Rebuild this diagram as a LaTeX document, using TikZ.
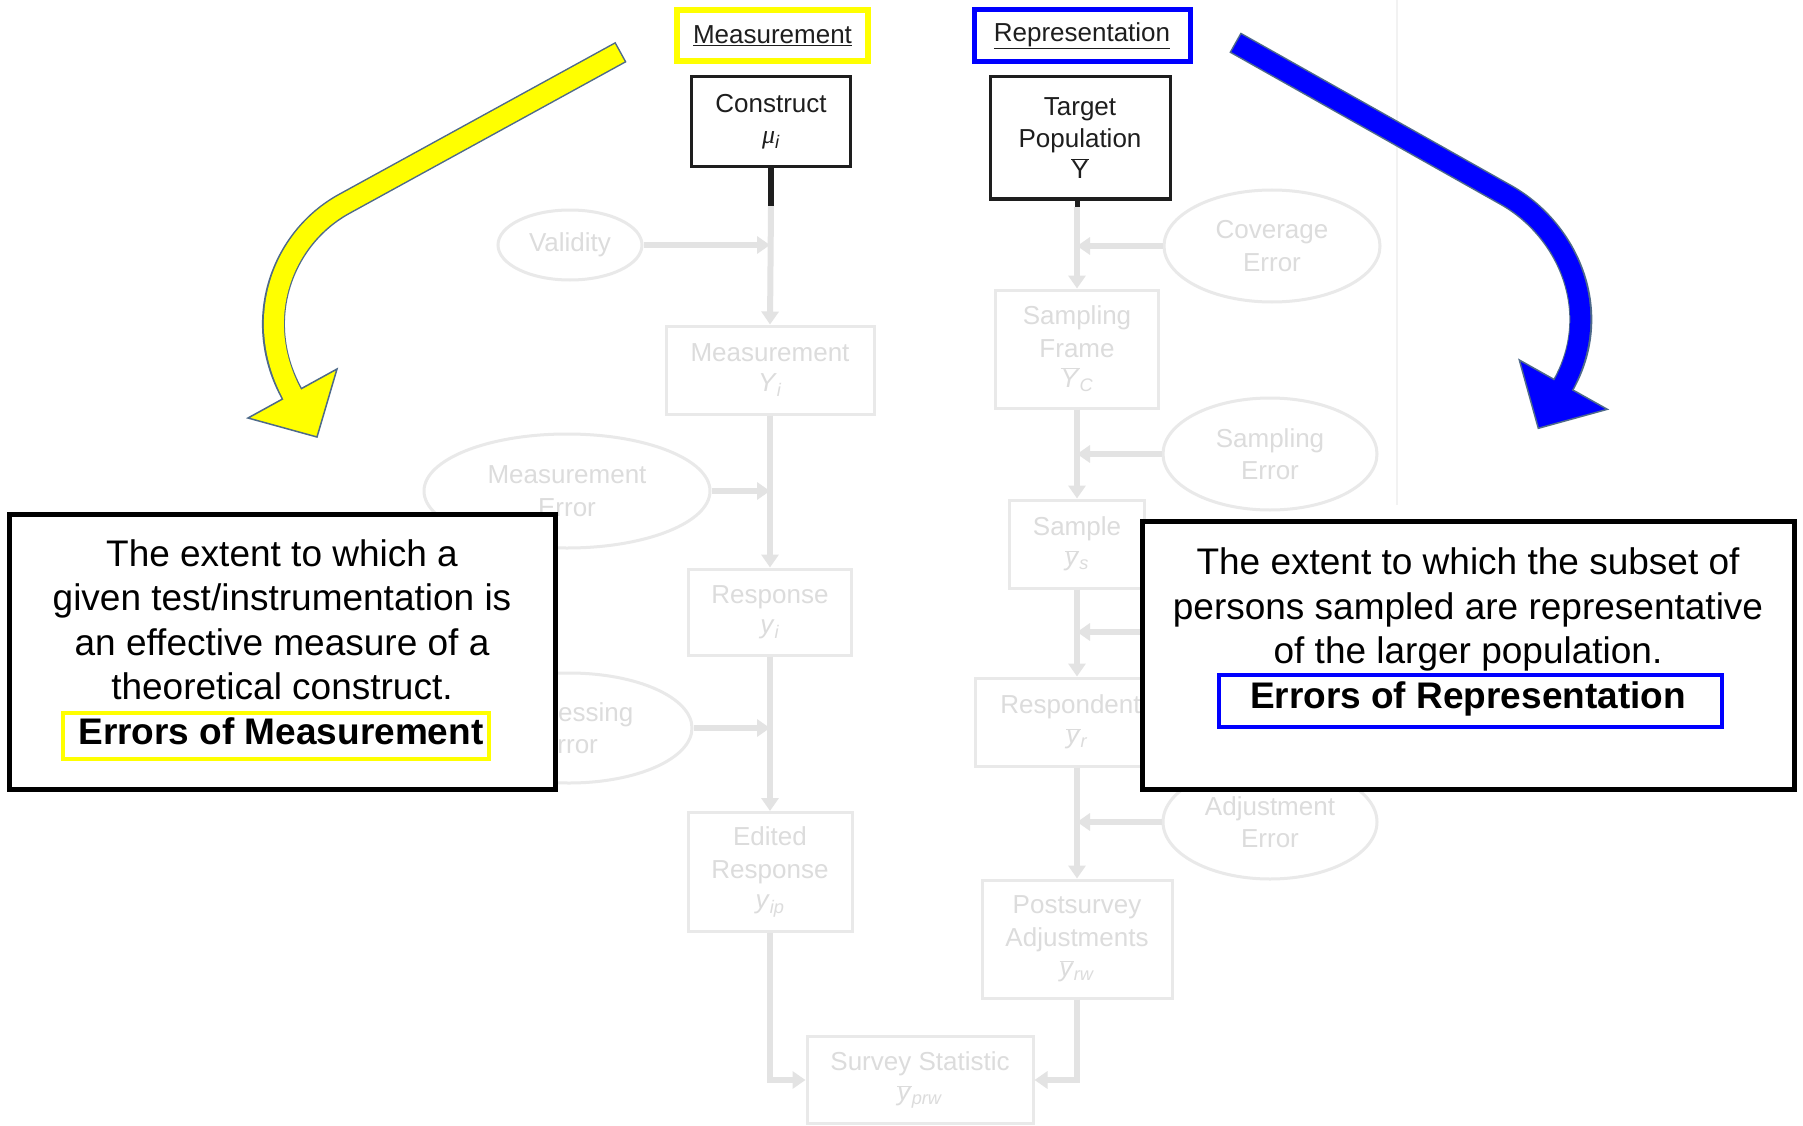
\documentclass[tikz,border=0pt]{standalone}
\usepackage{fontspec}
\setmainfont{Liberation Sans}
\newfontfamily\greekserif{Liberation Serif}
\usetikzlibrary{arrows.meta,shapes.geometric}
\definecolor{fadeln}{HTML}{E3E3E3}
\definecolor{fadebd}{HTML}{E9E9E9}
\definecolor{fadetx}{HTML}{DCDCDC}
\definecolor{arrowedge}{HTML}{4E6A8A}
\definecolor{ylw}{HTML}{FFFF00}
\definecolor{blu}{HTML}{0000FF}
\definecolor{scan}{HTML}{1E1E1E}
\definecolor{scanedge}{HTML}{F2F2F2}
\newcommand\bodyfont{\fontsize{37}{44.6}\selectfont}
\newcommand\fadefont{\fontsize{26}{32.5}\selectfont}
\newcommand\headfont{\fontsize{26}{32}\selectfont}
\tikzset{
 fadebox/.style={draw=fadebd, line width=3pt, rectangle, inner sep=0pt, align=center, text=fadetx, font=\fadefont},
 fadeell/.style={draw=fadebd, line width=3pt, ellipse, inner sep=0pt, align=center, text=fadetx, font=\fadefont},
 fadeline/.style={draw=fadeln, line width=6pt, -{Triangle[length=13pt,width=17pt]}},
 scanbox/.style={draw=scan, line width=3pt, rectangle, inner sep=0pt, align=center, text=scan, font=\headfont},
 stem/.style={draw=scan, line width=6pt},
 infobox/.style={draw=black, line width=5pt, fill=white, rectangle, inner sep=0pt},
 bodytxt/.style={font=\bodyfont, anchor=base, inner sep=0pt},
 headbox/.style={rectangle, inner sep=0pt, text=scan, font=\headfont},
 arrowout/.style={draw=arrowedge, line width=23pt},
 arrowhd/.style={draw=arrowedge, line width=1.5pt, line join=miter},
}
\begin{document}
\begin{tikzpicture}[x=1pt,y=-1pt]
\useasboundingbox[fill=white] (0,0) rectangle (1803,1126);

% faint scan edge
\draw[scanedge, line width=1.5pt] (1397,0) -- (1397,505);

% ---------- faded flow diagram (measurement side)
\node[fadebox, minimum width=208, minimum height=88] (meas) at (770,370)
  {Measurement\\[-2pt]\textit{Y}\textsubscript{\textit{i}}};
\node[fadebox, minimum width=163, minimum height=86] (resp) at (770,612)
  {Response\\[-2pt]\textit{y}\textsubscript{\textit{i}}};
\node[fadebox, minimum width=164, minimum height=119] (edit) at (770,872)
  {Edited\\Response\\[-2pt]\textit{y}\textsubscript{\textit{ip}}};
\node[fadebox, minimum width=226, minimum height=87] (surv) at (920,1080)
  {Survey Statistic\\[-2pt]$\overline{\mbox{\textit{y}}}$\textsubscript{\textit{prw}}};
\node[fadeell, minimum width=144, minimum height=70] (valid) at (570,245) {Validity};
\node[fadeell, minimum width=286, minimum height=114] (merr) at (567,491) {Measurement\\Error};
\node[fadeell, minimum width=246, minimum height=110] (perr) at (569,728) {Processing\\Error};

% ---------- faded flow diagram (representation side)
\node[fadebox, minimum width=163, minimum height=118] (sframe) at (1077,349)
  {Sampling\\Frame\\[-2pt]$\overline{\mbox{\textit{Y}}}$\textsubscript{\textit{C}}};
\node[fadebox, minimum width=135, minimum height=88] (samp) at (1077,544)
  {Sample\\[-2pt]$\overline{\mbox{\textit{y}}}$\textsubscript{\textit{s}}};
\node[fadebox, minimum width=204, minimum height=88] (respd) at (1077,722)
  {Respondents\\[-2pt]$\overline{\mbox{\textit{y}}}$\textsubscript{\textit{r}}};
\node[fadebox, minimum width=190, minimum height=118] (post) at (1077,939)
  {Postsurvey\\Adjustments\\[-2pt]$\overline{\mbox{\textit{y}}}$\textsubscript{\textit{rw}}};
\node[fadeell, minimum width=216, minimum height=112] (coverr) at (1272,246) {Coverage\\Error};
\node[fadeell, minimum width=214, minimum height=112] (serr) at (1270,454) {Sampling\\Error};
\node[fadeell, minimum width=214, minimum height=114] (aerr) at (1270,822) {Adjustment\\Error};

% ---------- top scanned boxes
\node[scanbox, minimum width=159, minimum height=90] (constr) at (771,122)
  {Construct\\[-1pt]{\greekserif\itshape μ}\textsubscript{\textit{i}}};
\node[scanbox, minimum width=180, minimum height=122] (target) at (1080,138)
  {Target\\Population\\[-1pt]$\overline{\mbox{Y}}$};
\coordinate (cstem) at ([yshift=-37pt]constr.south);
\coordinate (tstem) at (1077,207);
\coordinate (nresp) at (1150,632);

% faded connectors
\draw[fadeline] (cstem) -- (meas.north);
\draw[fadeline] (valid.east) -- (valid.east -| meas.north);
\draw[fadeline] (meas.south) -- (resp.north);
\draw[fadeline] (merr.east) -- (merr.east -| meas.south);
\draw[fadeline] (resp.south) -- (edit.north);
\draw[fadeline] (perr.east) -- (perr.east -| resp.south);
\draw[fadeline] (edit.south) |- (surv.west);
\draw[fadeline] (tstem) -- (sframe.north);
\draw[fadeline] (coverr.west) -- (coverr.west -| sframe.north);
\draw[fadeline] (sframe.south) -- (samp.north);
\draw[fadeline] (serr.west) -- (serr.west -| samp.north);
\draw[fadeline] (samp.south) -- (respd.north);
\draw[fadeline] (nresp) -- (nresp -| samp.south);
\draw[fadeline] (aerr.west) -- (aerr.west -| respd.south);
\draw[fadeline] (respd.south) -- (post.north);
\draw[fadeline] (post.south) |- (surv.east);

% black stems
\draw[stem] (constr.south) -- (cstem);
\draw[stem, line width=5pt] (target.south -| tstem) -- (tstem);

% ---------- headings
\node[headbox, draw=ylw, line width=6pt, minimum width=191, minimum height=51] (hmeas) at (772.5,35.5)
  {\underline{Measurement}};
\node[headbox, draw=blu, line width=5pt, minimum width=216, minimum height=52] (hrep) at (1082,36)
  {\underline{Representation}};

% ---------- info boxes
\node[infobox, minimum width=546, minimum height=275] (lbox) at (282,651.5) {};
\node[infobox, minimum width=652, minimum height=268] (rbox) at (1468,655) {};
\node[rectangle, draw=ylw, line width=4pt, minimum width=426, minimum height=46] (lerr) at (276,736) {};
\node[rectangle, draw=blu, line width=4.5pt, minimum width=503, minimum height=52] (rerr) at (1470.5,701) {};

\node[bodytxt] (l1) at (282,566) {The extent to which a};
\node[bodytxt] (l2) at (282,610.6) {given test/instrumentation is};
\node[bodytxt] (l3) at (282,655.2) {an effective measure of a};
\node[bodytxt] (l4) at (282,699.8) {theoretical construct.};
\node[bodytxt, font=\bodyfont\bfseries] (l5) at (281,744.4) {Errors of Measurement};

\node[bodytxt] (r1) at (1468,574.5) {The extent to which the subset of};
\node[bodytxt] (r2) at (1468,619) {persons sampled are representative};
\node[bodytxt] (r3) at (1468,663.5) {of the larger population.};
\node[bodytxt, font=\bodyfont\bfseries] (r4) at (1468,708) {Errors of Representation};

% ---------- yellow curved arrow
\coordinate (ya0) at (621,52);
\coordinate (ya1) at (344,204);
\coordinate (ya2) at (292,394);
\draw[arrowout] (ya0) -- (ya1) .. controls (282.6,237.7) and (250.8,319.6) .. (ya2);
\filldraw[arrowhd, fill=ylw] (248,418) -- (337,369) -- (317,437) -- cycle;
\draw[ylw, line width=20pt, shorten <=1.5pt, shorten >=-3pt] (ya0) -- (ya1) .. controls (282.6,237.7) and (250.8,319.6) .. (ya2);

% ---------- blue curved arrow
\coordinate (ba0) at (1235,42.5);
\coordinate (ba1) at (1506,195);
\coordinate (ba2) at (1563.3,385);
\draw[arrowout] (ba0) -- (ba1) .. controls (1567,229.3) and (1604.9,310.9) .. (ba2);
\filldraw[arrowhd, fill=blu] (1519.3,360) -- (1607.3,409.3) -- (1538.3,428.3) -- cycle;
\draw[blu, line width=20pt, shorten <=1.5pt, shorten >=-3pt] (ba0) -- (ba1) .. controls (1567,229.3) and (1604.9,310.9) .. (ba2);
\end{tikzpicture}
\end{document}
